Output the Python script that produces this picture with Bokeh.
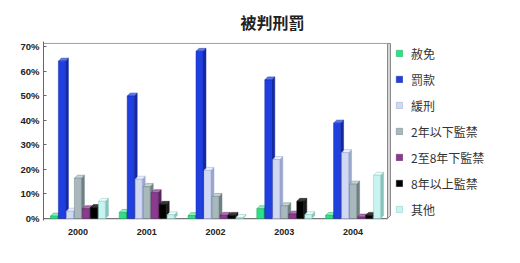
from bokeh.plotting import figure
from bokeh.models import Legend, LegendItem, FixedTicker, PrintfTickFormatter
from bokeh.embed import file_html
from bokeh.resources import INLINE

years = ["2000", "2001", "2002", "2003", "2004"]
series = ["赦免", "罰款", "緩刑", "2年以下監禁", "2至8年下監禁", "8年以上監禁", "其他"]
amnesty = [1.0, 2.5, 1.2, 4.0, 1.3]
fine = [64.0, 49.8, 68.0, 56.4, 38.8]
probation = [3.0, 16.0, 19.6, 24.0, 26.8]
prison_lt2 = [16.4, 13.0, 9.0, 5.2, 14.0]
prison_2to8 = [4.0, 10.5, 1.3, 1.8, 0.6]
prison_gt8 = [4.5, 5.8, 1.3, 7.0, 1.3]
other = [7.0, 1.5, 0.4, 1.6, 17.6]
values = [amnesty, fine, probation, prison_lt2, prison_2to8, prison_gt8, other]

front = ["#2ee085", "#1f3fe0", "#d0d8f4", "#a8b8bc", "#8c3a90", "#000000", "#c8f4f0"]
side = ["#1ea860", "#1428a0", "#9aa6cc", "#6e8084", "#5a2060", "#1a1a1a", "#88c4bc"]
top = ["#8af2bc", "#5a78f0", "#eef1fc", "#c8d4d6", "#b070b4", "#3a3a3a", "#eefcfa"]

n = len(years)
x_end = n * (520 - 43) / 344.0
wall_top = 71.2

p = figure(width=520, height=263, x_range=(0, x_end), y_range=(-0.8, 72.0),
           output_backend="svg", toolbar_location=None,
           min_border_left=43, min_border_right=0, min_border_top=38, min_border_bottom=43)
p.background_fill_color = "white"
p.border_fill_color = "white"
p.outline_line_color = None
p.grid.visible = False

step = 8 / 68.8
bw = 7 / 68.8
dx = 3 / 68.8
dy = 1.2

# back wall outline, floor and side wall
p.line([0, n], [wall_top, wall_top], line_color="#a0a0a0", line_width=1)
p.patch([n, n + dx, n + dx, n], [0, dy, wall_top, wall_top], fill_color="#d4d4d4", line_color="#8a8a8a", line_width=1)
p.line([0, n], [0, 0], line_color="#777777", line_width=1.2)

items = []
for i, (name, vals) in enumerate(zip(series, values)):
    lefts = [g + 0.5 + (i - 3) * step - bw / 2 for g in range(n)]
    rights = [l + bw for l in lefts]
    sx = [[r, r + dx, r + dx, r] for r in rights]
    sy = [[0, dy, v + dy, v] for v in vals]
    tx = [[l, l + dx, r + dx, r] for l, r in zip(lefts, rights)]
    ty = [[v, v + dy, v + dy, v] for v in vals]
    p.patches(sx, sy, fill_color=side[i], line_color=side[i], line_width=0.5)
    p.patches(tx, ty, fill_color=top[i], line_color=side[i], line_width=0.5)
    r = p.quad(left=lefts, right=rights, bottom=0, top=vals, fill_color=front[i],
               line_color=side[i], line_width=0.5)
    items.append(LegendItem(label=name, renderers=[r]))

legend = Legend(items=items, location=(352, 1), glyph_width=8, glyph_height=8,
                label_height=20, spacing=6, padding=0, margin=0, label_standoff=8,
                border_line_color=None, background_fill_alpha=0,
                label_text_font="Noto Sans CJK TC", label_text_font_size="12px",
                label_text_color="#333333")
p.add_layout(legend, "center")

p.yaxis.ticker = FixedTicker(ticks=[0, 10, 20, 30, 40, 50, 60, 70])
p.yaxis.formatter = PrintfTickFormatter(format="%d%%")
p.yaxis.major_tick_in = 3
p.yaxis.major_tick_out = 0
p.yaxis.minor_tick_line_color = None
p.yaxis.axis_line_color = "#666666"
p.yaxis.major_tick_line_color = "#666666"
p.yaxis.major_label_text_font = "Liberation Sans"
p.yaxis.major_label_text_font_style = "bold"
p.yaxis.major_label_text_font_size = "9.5px"
p.yaxis.major_label_text_color = "#222222"
p.yaxis.major_label_standoff = 4

p.xaxis.ticker = FixedTicker(ticks=[g + 0.5 for g in range(n)])
p.xaxis.major_label_overrides = {g + 0.5: y for g, y in enumerate(years)}
p.xaxis.axis_line_color = None
p.xaxis.major_tick_line_color = None
p.xaxis.minor_tick_line_color = None
p.xaxis.major_label_text_font = "Liberation Sans"
p.xaxis.major_label_text_font_style = "bold"
p.xaxis.major_label_text_font_size = "9px"
p.xaxis.major_label_text_color = "#222222"
p.xaxis.major_label_standoff = 2

p.title.text = "被判刑罰"
p.title.text_font = "Noto Sans CJK TC"
p.title.text_font_size = "16px"
p.title.text_font_style = "bold"
p.title.text_color = "#222222"
p.title.align = "left"
p.title.offset = 197
p.title.standoff = 15

open("out.html", "w").write(file_html(p, INLINE))
